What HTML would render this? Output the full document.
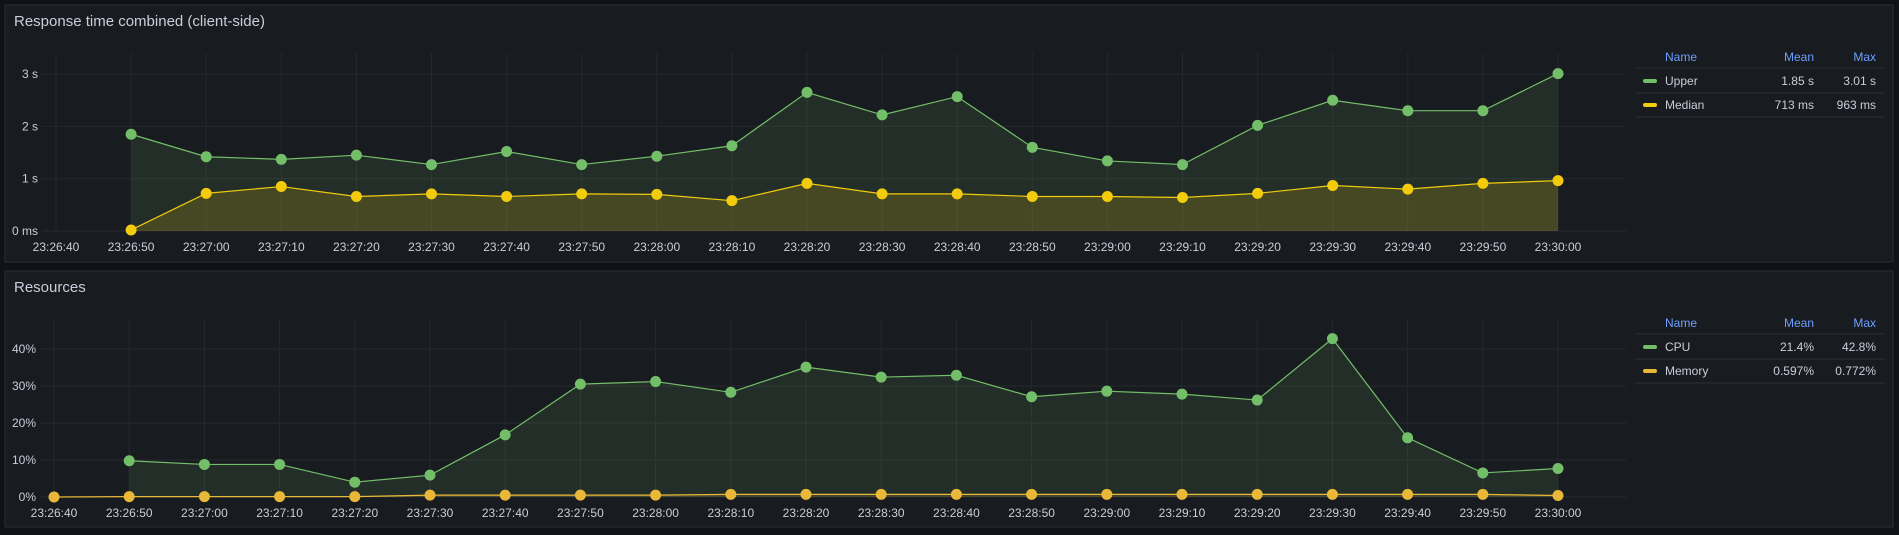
<!DOCTYPE html>
<html><head><meta charset="utf-8"><style>
html,body{margin:0;padding:0;background:#111217;width:1899px;height:535px;overflow:hidden;font-family:"Liberation Sans",sans-serif}
svg{display:block}
</style></head><body>
<svg id="c" width="1899" height="535" xmlns="http://www.w3.org/2000/svg">
<rect x="5" y="5" width="1888" height="257" fill="#181b1f" stroke="#2a2d33"/>
<text x="14" y="26" fill="#ccccdc" font-size="15">Response time combined (client-side)</text>
<rect x="5" y="271" width="1888" height="256" fill="#181b1f" stroke="#2a2d33"/>
<text x="14" y="292" fill="#ccccdc" font-size="15">Resources</text>
<g id="g1"></g><g id="g2"></g>
</svg>
<script>
const times=["23:26:40","23:26:50","23:27:00","23:27:10","23:27:20","23:27:30","23:27:40","23:27:50","23:28:00","23:28:10","23:28:20","23:28:30","23:28:40","23:28:50","23:29:00","23:29:10","23:29:20","23:29:30","23:29:40","23:29:50","23:30:00"];
const upper=[null,1.85,1.42,1.37,1.45,1.27,1.52,1.27,1.43,1.63,2.65,2.22,2.57,1.60,1.34,1.27,2.02,2.50,2.30,2.30,3.01];
const median=[null,0.02,0.72,0.85,0.66,0.71,0.66,0.71,0.70,0.58,0.91,0.71,0.71,0.66,0.66,0.64,0.72,0.87,0.80,0.91,0.963];
const cpu=[null,9.8,8.8,8.8,4.0,5.9,16.8,30.5,31.2,28.3,35.1,32.4,32.9,27.1,28.6,27.8,26.2,42.8,16.0,6.5,7.7];
const memory=[0,0.1,0.1,0.1,0.1,0.5,0.5,0.5,0.5,0.7,0.7,0.7,0.7,0.7,0.7,0.7,0.7,0.7,0.7,0.7,0.4];
const rtTicks=[0,1,2,3];
const rtTickLabels=["0 ms","1 s","2 s","3 s"];
const resTicks=[0,10,20,30,40];
const resTickLabels=["0%","10%","20%","30%","40%"];
const legend1=[["Upper","1.85 s","3.01 s","#73bf69"],["Median","713 ms","963 ms","#f2cc0c"]];
const legend2=[["CPU","21.4%","42.8%","#73bf69"],["Memory","0.597%","0.772%","#eab839"]];
const NS="http://www.w3.org/2000/svg";
function mk(p,t,a){const e=document.createElementNS(NS,t);for(const k in a)e.setAttribute(k,a[k]);p.appendChild(e);return e;}
function chart(g,o){
  const x=i=>o.x0+i*o.dx;
  const y=v=>o.yb-(v-0)*o.py;
  rtlTicks(g,o,x,y);
  o.series.forEach(s=>{
    const idx=s.vals.map((v,i)=>v==null?null:i).filter(i=>i!=null);
    let d=idx.map((i,k)=>(k?'L':'M')+x(i)+','+y(s.vals[i])).join('');
    const a=mk(g,'path',{d:d+'L'+x(idx[idx.length-1])+','+y(0)+'L'+x(idx[0])+','+y(0)+'Z',fill:s.fill});
    
    
    const l=mk(g,'path',{d:d,fill:'none',stroke:s.color,'stroke-width':1.2});
    
    
    idx.forEach(i=>{const c=mk(g,'circle',{cx:x(i),cy:y(s.vals[i]),r:5.5,fill:s.color});
      
      });
  });
  // legend
  const L=1635,R=1885;
  mk(g,'line',{x1:L,x2:R,y1:o.ly+11,y2:o.ly+11,stroke:'#2c2f35'});
  [['Name',1665,'start'],['Mean',1814,'end'],['Max',1876,'end']].forEach(h=>{const t=mk(g,'text',{x:h[1],y:o.ly+4,fill:'#6e9fff','font-size':12,'text-anchor':h[2]});t.textContent=h[0];
    
    });
  o.legend.forEach((r,k)=>{const yy=o.ly+28+k*24;
    const e=mk(g,'g',{});
    
    
    mk(e,'rect',{x:1643,y:yy-6,width:14,height:4,rx:2,fill:r[3]});
    const t1=mk(e,'text',{x:1665,y:yy,fill:'#ccccdc','font-size':12});t1.textContent=r[0];
    const t2=mk(e,'text',{x:1814,y:yy,fill:'#ccccdc','font-size':12,'text-anchor':'end'});t2.textContent=r[1];
    const t3=mk(e,'text',{x:1876,y:yy,fill:'#ccccdc','font-size':12,'text-anchor':'end'});t3.textContent=r[2];
    mk(e,'line',{x1:L,x2:R,y1:yy+8,y2:yy+8,stroke:'#2c2f35'});
  });
}
function rtlTicks(g,o,x,y){
  times.forEach((t,i)=>{mk(g,'line',{x1:x(i),x2:x(i),y1:o.top,y2:o.yb,stroke:'#24272c'});
    const tx=mk(g,'text',{x:x(i),y:o.yb+20,fill:'#ccccdc','font-size':12,'text-anchor':'middle'});tx.textContent=t;
    
    });
  o.ticks.forEach((v,k)=>{mk(g,'line',{x1:o.x0-14,x2:1626,y1:y(v),y2:y(v),stroke:'#26292e'});
    const tx=mk(g,'text',{x:o.x0-18,y:y(v)+4,fill:'#ccccdc','font-size':12,'text-anchor':'end'});tx.textContent=o.labels[k];
    
    });
}
chart(document.getElementById('g1'),{x0:56,dx:75.1,yb:231,py:52.3,top:53,ticks:rtTicks,labels:rtTickLabels,ly:57,legend:legend1,
  series:[{name:'upper',vals:upper,color:'#73bf69',fill:'rgba(115,191,105,0.12)'},{name:'median',vals:median,color:'#f2cc0c',fill:'rgba(242,204,12,0.17)'}]});
chart(document.getElementById('g2'),{x0:54,dx:75.2,yb:497,py:3.7,top:319,ticks:resTicks,labels:resTickLabels,ly:323,legend:legend2,
  series:[{name:'cpu',vals:cpu,color:'#73bf69',fill:'rgba(115,191,105,0.12)'},{name:'memory',vals:memory,color:'#eab839',fill:'rgba(234,184,57,0.15)'}]});
</script>
</body></html>
